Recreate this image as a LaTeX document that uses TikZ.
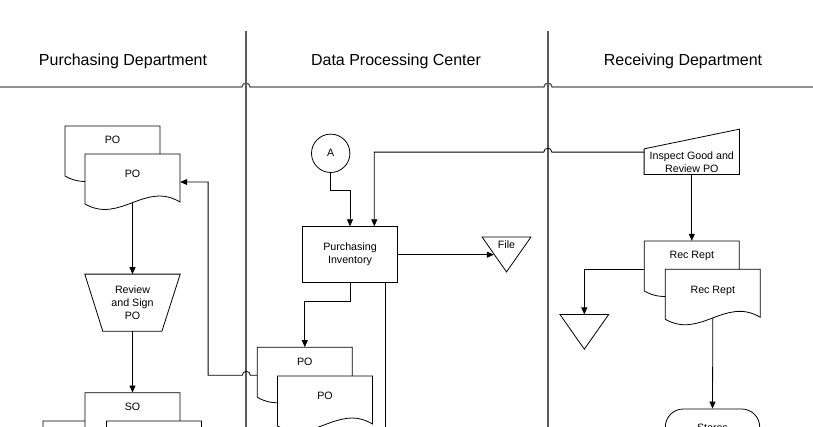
\documentclass[tikz,border=0pt]{standalone}
\usepackage{fontspec}
\setmainfont{Liberation Sans}
\usetikzlibrary{arrows.meta, calc}
\tikzset{
  lane/.style={draw=black!65, line width=1.3pt},
  shapeline/.style={draw=black, line width=0.8pt},
  docline/.style={shapeline, fill=white},
  txt/.style={font=\fontsize{10.67}{13}\selectfont, align=center, inner sep=0pt},
  head/.style={font=\fontsize{16}{19}\selectfont, inner sep=0pt},
  docnode/.style={txt, minimum width=95pt, minimum height=56pt,
                  text height=8pt, text depth=16.4pt},
  backdoc/.style={docnode, text depth=28.4pt},
  procbox/.style={txt, draw, line width=0.8pt, minimum width=94.6pt,
                  minimum height=56pt},
  conncirc/.style={txt, circle, draw, line width=0.8pt, minimum size=38.4pt},
  manop/.style={txt, minimum width=95pt, minimum height=56.7pt,
    append after command={\pgfextra{\draw[shapeline]
      (\tikzlastnode.north west) -- (\tikzlastnode.north east)
      -- ([xshift=-18.3pt]\tikzlastnode.south east)
      -- ([xshift=18pt]\tikzlastnode.south west) -- cycle;}}},
  manin/.style={txt, minimum width=95pt, minimum height=25.3pt,
    append after command={\pgfextra{\draw[shapeline]
      (\tikzlastnode.south west) -- (\tikzlastnode.north west)
      -- ([yshift=19.7pt]\tikzlastnode.north east)
      -- (\tikzlastnode.south east) -- cycle;}}},
  tri/.style={txt, minimum width=48.4pt, minimum height=34.4pt,
              text height=8pt, text depth=19.4pt,
    append after command={\pgfextra{\draw[shapeline]
      (\tikzlastnode.north west) -- (\tikzlastnode.north east)
      -- (\tikzlastnode.south) -- cycle;}}},
  term/.style={txt, draw, line width=0.8pt, rounded corners=18pt,
               minimum width=94.4pt, minimum height=38pt},
  flow/.style={-{Triangle[length=7pt,width=6pt]}, line width=0.8pt},
  conn/.style={line width=0.8pt}
}
% document shape: outline first, then the text node
\newcommand\docu[4][docnode]{%
  \begin{scope}[shift={(#3)}]
    \draw[docline] (0,0) -- (0,50) .. controls (35,70) and (60,27) .. (95,48)
      -- (95,0) -- cycle;
    \node[#1] (#2) at (47.5,28) {#4};
  \end{scope}}

\begin{document}
\begin{tikzpicture}[x=1pt, y=-1pt]
  \useasboundingbox (0,0) rectangle (813,427);
  \clip (0,0) rectangle (813,427);

  % swimlanes
  \node[head] (hpur) at (123,61.3) {Purchasing Department};
  \node[head] (hdpc) at (396,61.3) {Data Processing Center};
  \node[head] (hrec) at (683,61.3) {Receiving Department};
  \draw[lane] (0,87) -- (242,87) arc[start angle=180, end angle=0, radius=4pt]
    -- (544,87) arc[start angle=180, end angle=0, radius=4pt] -- (813,87);
  \draw[lane] (246,31) -- (246,430);
  \draw[lane] (548,31) -- (548,430);

  % documents
  \docu[backdoc]{pob}{65,126}{PO}
  \docu{pof}{85,154}{PO}
  \docu[backdoc]{sol}{43,421}{}
  \docu[backdoc]{sob}{85,392.7}{SO}
  \docu{sof}{106.5,421}{}
  \docu[backdoc]{dpob}{257.3,347.3}{PO}
  \docu{dpof}{277.5,376}{PO}
  \docu[backdoc]{rrb}{644.3,241}{Rec Rept}
  \docu{rrf}{665.3,269.3}{Rec Rept}

  % other steps
  \node[manop] (rsign) at (132.5,302.7) {Review\\and Sign\\PO};
  \node[conncirc] (pA) at (330.7,153.3) {A};
  \node[procbox] (pinv) at (350,254.7) {Purchasing\\Inventory};
  \node[tri] (file) at (506.5,254.5) {File};
  \node[manin] (insp) at (691.8,161.7) {Inspect Good and\\Review PO};
  \node[tri] (rrfile) at (584.3,331.8) {};
  \node[term] (stores) at (712.5,428) {Stores};
  \coordinate (pinvout) at (385.7,440);

  % flows
  \draw[flow] ([yshift=7.4pt]pof.south) -- (rsign.north);
  \draw[flow] (rsign.south) -- (sob.north);
  \draw[flow] (dpob.west) -- ++(-6.8,0) arc[start angle=0, end angle=180, radius=4pt]
    -- ++(-34.2,0) |- (pof.east);
  \draw[flow] (pA.south) -- ++(0,17.3) -| (pinv.north);
  \draw[flow] ([yshift=-3.3pt]insp.north west) -- ++(-92.3,0)
    arc[start angle=0, end angle=180, radius=4pt] -| ([xshift=24.3pt]pinv.north);
  \draw[flow] (pinv.east) -- ($(pinv.east -| file.west)+(11.7,0)$);
  \draw[flow] (pinv.south) -- ++(0,18) -| (dpob.north);
  \draw[conn] (pinv.south -| pinvout) -- (pinvout);
  \draw[flow] (insp.south) -- (rrb.north);
  \draw[flow] (rrb.west) -| (rrfile.north);
  \draw[flow] ([yshift=7.4pt]rrf.south) -- (stores.north);
\end{tikzpicture}
\end{document}
